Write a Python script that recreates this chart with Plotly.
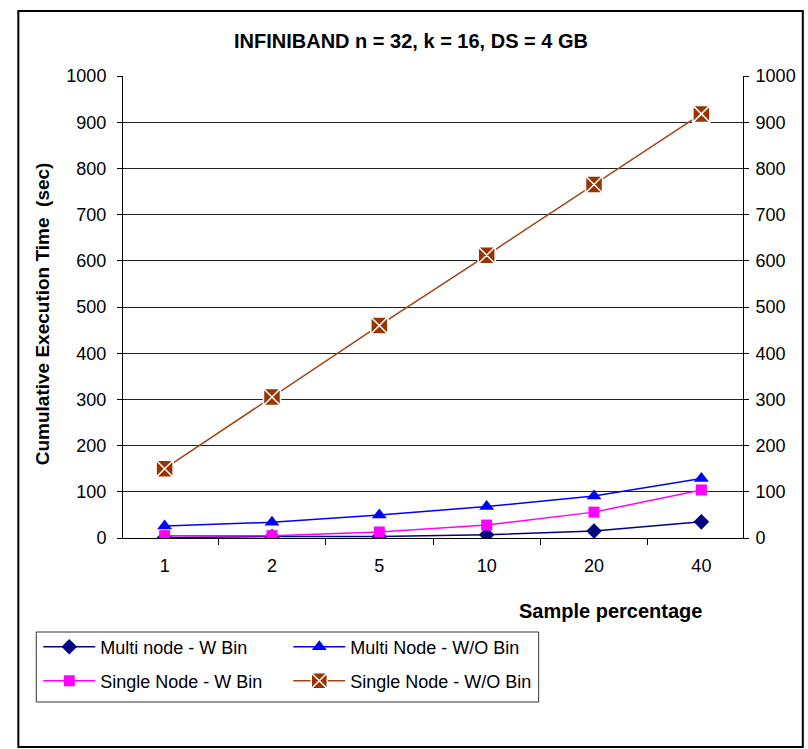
import plotly.graph_objects as go

categories = ["1", "2", "5", "10", "20", "40"]
multi_w_bin = [1, 3, 3, 7, 15, 35]
multi_wo_bin = [26, 34, 50, 68, 91, 129]
single_w_bin = [5, 5, 13, 28, 56, 104]
single_wo_bin = [150, 305, 460, 612, 765, 918]

FONT = "Liberation Sans, Arial, sans-serif"
L, R, T, B = 123, 745, 76, 538
W, H = 808, 749

fig = go.Figure()
fig.add_trace(go.Scatter(x=categories, y=multi_w_bin, name="Multi node - W Bin", mode="lines+markers",
                         legend="legend",
                         line=dict(color="#000080", width=1.5),
                         marker=dict(symbol="diamond", size=12, color="#000080")))
fig.add_trace(go.Scatter(x=categories, y=multi_wo_bin, name="Multi Node - W/O Bin", mode="lines+markers",
                         legend="legend",
                         line=dict(color="#0000FF", width=1.5),
                         marker=dict(symbol="triangle-up", size=13, color="#0000FF")))
fig.add_trace(go.Scatter(x=categories, y=single_w_bin, name="Single Node - W Bin", mode="lines+markers",
                         legend="legend2",
                         line=dict(color="#FF00FF", width=1.5),
                         marker=dict(symbol="square", size=11, color="#FF00FF")))
fig.add_trace(go.Scatter(x=categories, y=single_wo_bin, name="Single Node - W/O Bin", mode="lines+markers",
                         legend="legend2",
                         line=dict(color="#A0441A", width=1.5),
                         marker=dict(symbol="square-x", size=17, color="#993300",
                                     line=dict(color="white", width=1.5))))
# invisible trace for the right axis
fig.add_trace(go.Scatter(x=categories, y=single_wo_bin, yaxis="y2", showlegend=False,
                         mode="markers", marker=dict(opacity=0), hoverinfo="skip"))

def px_x(p):
    return (p - L) / (R - L)

def px_y(p):
    return (B - p) / (B - T)

legend_common = dict(orientation="h", xanchor="left", yanchor="middle",
                     entrywidth=183, entrywidthmode="pixels", borderwidth=0, itemwidth=52,
                     bgcolor="rgba(0,0,0,0)", font=dict(family=FONT, size=18, color="black"),
                     traceorder="normal", itemclick=False)

fig.update_layout(
    width=W, height=H,
    margin=dict(l=L, r=W - R, t=T, b=H - B, pad=0),
    paper_bgcolor="white", plot_bgcolor="white",
    font=dict(family=FONT, size=18, color="black"),
    title=dict(text="<b>INFINIBAND n = 32, k = 16, DS = 4 GB</b>", x=411 / W, xref="container",
               xanchor="center", y=1 - 41 / H, yref="container", yanchor="middle",
               font=dict(family=FONT, size=20, color="black")),
    xaxis=dict(type="category", showline=True, linecolor="black", linewidth=1,
               ticks="outside", tickson="boundaries", ticklen=6, tickcolor="black",
               showgrid=False, zeroline=False, tickfont=dict(size=18), ticklabelstandoff=11),
    yaxis=dict(range=[0, 1000], tickvals=list(range(0, 1001, 100)), showline=True,
               linecolor="black", linewidth=1, ticks="outside", ticklen=5, tickcolor="black",
               showgrid=True, gridcolor="#222222", gridwidth=1, zeroline=False,
               tickfont=dict(size=18), ticklabelstandoff=7),
    yaxis2=dict(range=[0, 1000], tickvals=list(range(0, 1001, 100)), overlaying="y", side="right",
                showline=True, linecolor="black", linewidth=1, ticks="outside", ticklen=5,
                tickcolor="black", showgrid=False, zeroline=False, tickfont=dict(size=18),
                ticklabelstandoff=3),
    legend=dict(x=px_x(38), y=px_y(647), **legend_common),
    legend2=dict(x=px_x(38), y=px_y(681), **legend_common),
    showlegend=True,
)

fig.add_annotation(text="<b>Sample percentage</b>", xref="paper", yref="paper",
                   x=px_x(706), y=px_y(611), xanchor="right", yanchor="middle",
                   showarrow=False, font=dict(family=FONT, size=20, color="black"))
fig.add_annotation(text="<b>Cumulative Execution Time  (sec)</b>", xref="paper", yref="paper",
                   x=px_x(42), y=px_y(314), xanchor="center", yanchor="middle", textangle=-90,
                   showarrow=False, font=dict(family=FONT, size=19, color="black"))

# outer chart frame
fig.add_shape(type="rect", xref="paper", yref="paper",
              x0=px_x(18), x1=px_x(805), y0=px_y(747), y1=px_y(11),
              line=dict(color="black", width=2), fillcolor="rgba(0,0,0,0)", layer="below")
# legend frame
fig.add_shape(type="rect", xref="paper", yref="paper",
              x0=px_x(36), x1=px_x(540), y0=px_y(702), y1=px_y(632),
              line=dict(color="#333333", width=1), fillcolor="rgba(0,0,0,0)", layer="below")

fig.write_html("out.html")
